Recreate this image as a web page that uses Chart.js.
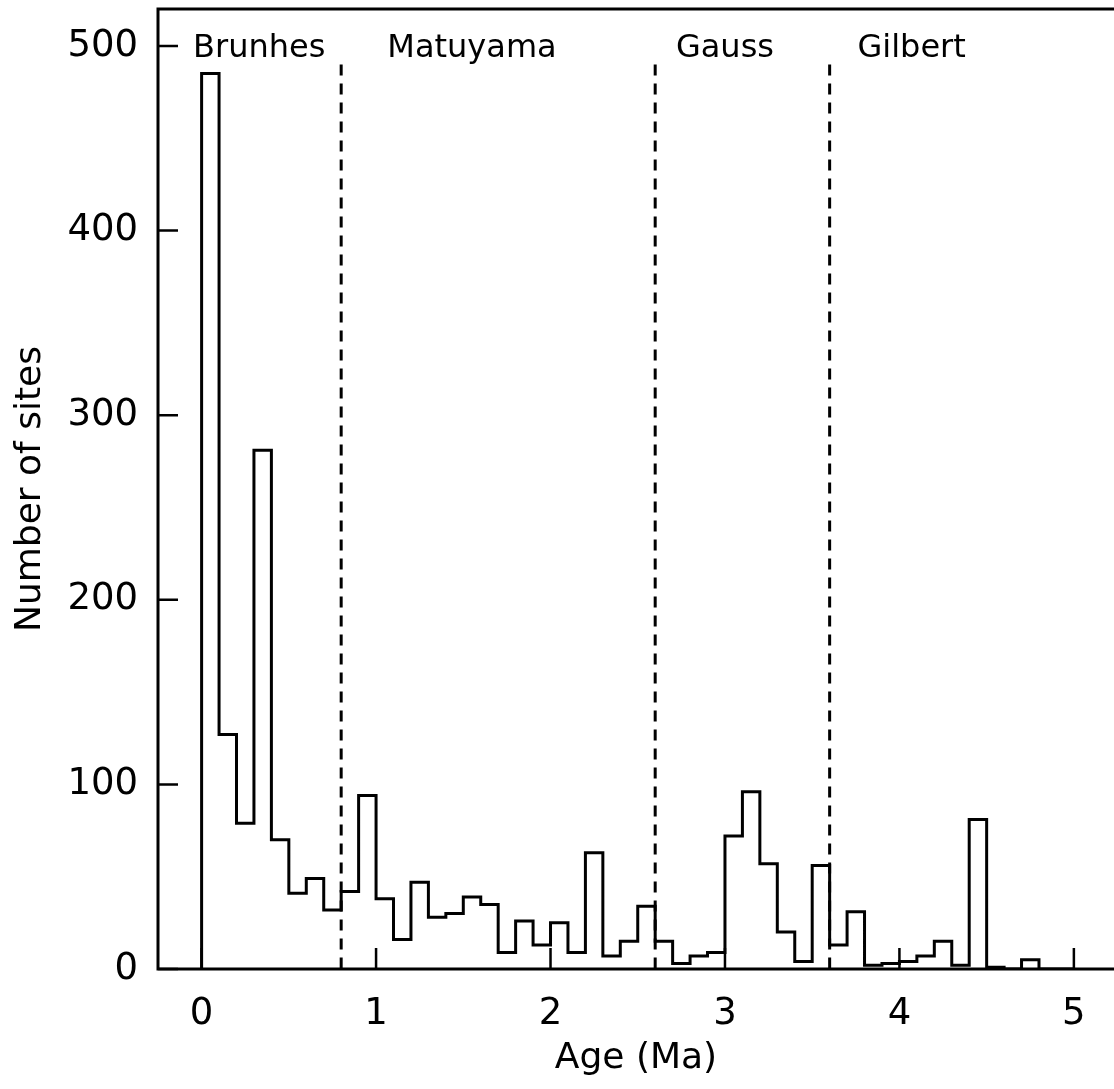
<!DOCTYPE html>
<html>
<head>
<meta charset="utf-8">
<title>Number of sites vs age</title>
<script src="https://cdn.jsdelivr.net/npm/chart.js@4.4.1/dist/chart.umd.min.js"></script>
<style>
  html, body { margin: 0; padding: 0; background: #fff; overflow: hidden; }
  canvas { display: block; }
</style>
</head>
<body>
<canvas id="histChart" width="1114" height="1089"></canvas>
<script>
// Histogram: 0.1 Ma bins starting at 0 Ma
const binWidth = 0.1;
const siteCounts = [
  485, 127, 79, 281, 70, 41, 49, 32, 42, 94,
  38, 16, 47, 28, 30, 39, 35, 9, 26, 13,
  25, 9, 63, 7, 15, 34, 15, 3, 7, 9,
  72, 96, 57, 20, 4, 56, 13, 31, 2, 3,
  4, 7, 15, 2, 81, 1, 0, 5, 0, 0
];

// Polarity chron boundaries (Ma) and names
const chronBoundaries = [0.8, 2.6, 3.6];
const chronNames = ["Brunhes", "Matuyama", "Gauss", "Gilbert"];
const chronLabelAge = [0.33, 1.55, 3.0, 4.07];

const xTicks = [0, 1, 2, 3, 4, 5];
const yTicks = [0, 100, 200, 300, 400, 500];

// step outline points: one per bin left edge, closed at both ends
const histPoints = [{ x: 0, y: 0 }];
siteCounts.forEach((c, i) => histPoints.push({ x: i * binWidth, y: c }));
histPoints.push({ x: siteCounts.length * binWidth, y: 0 });

const boundaryTop = 490;
const boundarySets = chronBoundaries.map((b) => ({
  data: [{ x: b, y: boundaryTop }, { x: b, y: 0 }],
  borderColor: "#000",
  borderWidth: 3,
  borderDash: [11, 8],
  pointRadius: 0,
  fill: false
}));

const FONT = '"DejaVu Sans", sans-serif';
Chart.defaults.font.family = FONT;
Chart.defaults.color = "#000";

// frame, inward ticks and chron names
const framePlugin = {
  id: "frame",
  afterDatasetsDraw(chart) {
    const { ctx, chartArea: a, scales: { x, y } } = chart;
    ctx.save();
    ctx.strokeStyle = "#000";
    ctx.lineWidth = 3;
    ctx.beginPath();
    ctx.moveTo(a.right + 3, a.top);
    ctx.lineTo(a.left, a.top);
    ctx.lineTo(a.left, a.bottom);
    ctx.lineTo(a.right + 3, a.bottom);
    ctx.stroke();

    ctx.lineWidth = 2.5;
    ctx.beginPath();
    yTicks.forEach((v) => {
      const py = y.getPixelForValue(v);
      ctx.moveTo(a.left, py);
      ctx.lineTo(a.left + 20, py);
    });
    xTicks.forEach((v) => {
      const px = x.getPixelForValue(v);
      ctx.moveTo(px, a.bottom);
      ctx.lineTo(px, a.bottom - 21);
    });
    ctx.stroke();

    ctx.font = "32px " + FONT;
    ctx.fillStyle = "#000";
    ctx.textAlign = "center";
    ctx.textBaseline = "alphabetic";
    chronNames.forEach((name, i) => {
      ctx.fillText(name, x.getPixelForValue(chronLabelAge[i]), y.getPixelForValue(494));
    });
    ctx.restore();
  }
};

const ctx = document.getElementById("histChart").getContext("2d");
new Chart(ctx, {
  type: "line",
  data: {
    datasets: [
      {
        data: histPoints,
        stepped: "before",
        borderColor: "#000",
        borderWidth: 3,
        pointRadius: 0,
        fill: false
      },
      ...boundarySets
    ]
  },
  options: {
    responsive: false,
    animation: false,
    devicePixelRatio: 1,
    layout: { padding: { top: 9, left: 0, right: 0, bottom: 0 }, autoPadding: false },
    plugins: {
      legend: { display: false },
      tooltip: { enabled: false }
    },
    scales: {
      x: {
        type: "linear",
        min: -0.25,
        max: 5.23,
        grid: { display: false, drawTicks: false },
        border: { display: false },
        afterBuildTicks: (axis) => {
          axis.ticks = xTicks.map((v) => ({ value: v }));
        },
        afterFit: (scale) => {
          scale.height = 120;
          scale.paddingLeft = 0;
          scale.paddingRight = 0;
        },
        ticks: {
          font: { size: 37 },
          padding: 23,
          maxRotation: 0
        },
        title: {
          display: true,
          text: "Age (Ma)",
          font: { size: 36 },
          padding: { top: 0, bottom: 9 }
        }
      },
      y: {
        type: "linear",
        min: 0,
        max: 520,
        grid: { display: false, drawTicks: false },
        border: { display: false },
        afterBuildTicks: (axis) => {
          axis.ticks = yTicks.map((v) => ({ value: v }));
        },
        afterFit: (scale) => {
          scale.width = 158;
          scale.paddingTop = 0;
          scale.paddingBottom = 0;
        },
        ticks: {
          font: { size: 37 },
          padding: 20
        },
        title: {
          display: true,
          text: "Number of sites",
          font: { size: 36 },
          padding: { top: 9, bottom: 0 }
        }
      }
    }
  },
  plugins: [framePlugin]
});
</script>
</body>
</html>
